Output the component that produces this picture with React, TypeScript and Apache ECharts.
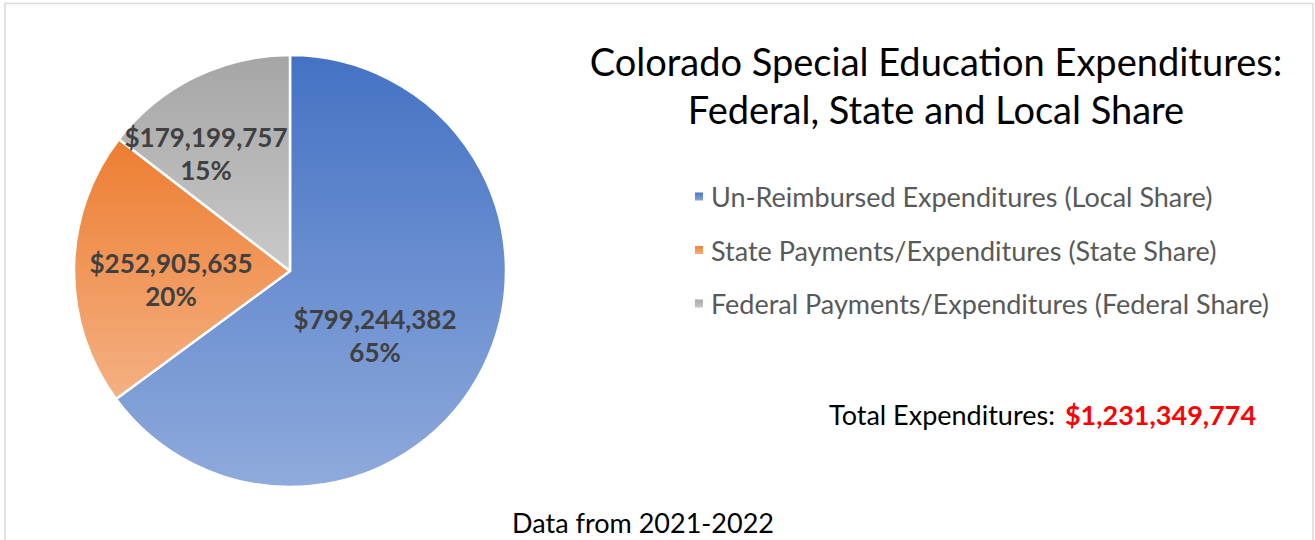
import React, { useEffect, useRef } from "react";
import * as echarts from "echarts";

const categories = [
  "Un-Reimbursed Expenditures (Local Share)",
  "State Payments/Expenditures (State Share)",
  "Federal Payments/Expenditures (Federal Share)",
];
const values = [799244382, 252905635, 179199757];
const topColors = ["#4472C4", "#ED7D31", "#A5A5A5"];
const bottomColors = ["#8FAADC", "#F4B183", "#C9C9C9"];
const labelOffsets = [
  [-14, 14],
  [-8, 10],
  [-35, -18],
];
const titleText = "Colorado Special Education Expenditures:\nFederal, State and Local Share";
const totalLabel = "Total Expenditures:";
const totalValue = "$1,231,349,774";
const footnote = "Data from 2021-2022";

const FONT = "Lato, 'Open Sans', sans-serif";

const fmtMoney = (v: number) => "$" + v.toLocaleString("en-US");

export default function App() {
  const ref = useRef<HTMLDivElement>(null);
  useEffect(() => {
    if (!ref.current) return;
    const chart = echarts.init(ref.current, null, { renderer: "svg" });
    const grad = (i: number) =>
      new echarts.graphic.LinearGradient(0, 0, 0, 1, [
        { offset: 0, color: topColors[i] },
        { offset: 1, color: bottomColors[i] },
      ]);
    chart.setOption({
      animation: false,
      backgroundColor: "#ffffff",
      title: [
        {
          text: titleText,
          left: 931,
          top: 32,
          textAlign: "center",
          textStyle: {
            fontFamily: FONT,
            fontWeight: "normal",
            fontSize: 38,
            lineHeight: 48,
            color: "#000000",
          },
        },
        {
          text: `{a|${totalLabel}}  {b|${totalValue}}`,
          left: 824,
          top: 396,
          textStyle: {
            fontWeight: "normal",
            rich: {
              a: { fontFamily: FONT, fontSize: 27, fontWeight: "normal", color: "#000000" },
              b: { fontFamily: FONT, fontSize: 27, fontWeight: "bold", color: "#FF0000" },
            },
          },
        },
        {
          text: footnote,
          left: 638,
          top: 504,
          textAlign: "center",
          textStyle: { fontFamily: FONT, fontWeight: "normal", fontSize: 27, color: "#000000" },
        },
      ],
      legend: {
        orient: "vertical",
        left: 688,
        top: 178,
        itemWidth: 10,
        itemHeight: 10,
        itemGap: 26.5,
        icon: "rect",
        textStyle: { fontFamily: FONT, fontSize: 27, color: "#595959", padding: [0, 0, 0, 2] },
        data: categories,
      },
      graphic: [
        {
          type: "rect",
          shape: { x: 5, y: 3.5, width: 1308, height: 600 },
          style: { fill: "none", stroke: "#d9d9d9", lineWidth: 1.5 },
          silent: true,
        },
      ],
      series: [
        {
          type: "pie",
          center: [290, 271],
          radius: 216,
          startAngle: 90,
          clockwise: true,
          percentPrecision: 0,
          itemStyle: { borderColor: "#ffffff", borderWidth: 2.5 },
          label: {
            show: true,
            position: "inside",
            formatter: (p: any) => `${fmtMoney(p.value)}\n${p.percent}%`,
            fontFamily: FONT,
            fontSize: 26,
            fontWeight: "bold",
            color: "#404040",
            lineHeight: 33,
          },
          labelLine: { show: false },
          emphasis: { disabled: true },
          data: categories.map((name, i) => ({
            name,
            value: values[i],
            itemStyle: { color: grad(i) },
            label: { offset: labelOffsets[i] },
          })),
        },
      ],
    });
    return () => chart.dispose();
  }, []);
  return (
    <div
      ref={ref}
      style={{ position: "absolute", left: 0, top: 0, width: 1315, height: 540 }}
    />
  );
}
